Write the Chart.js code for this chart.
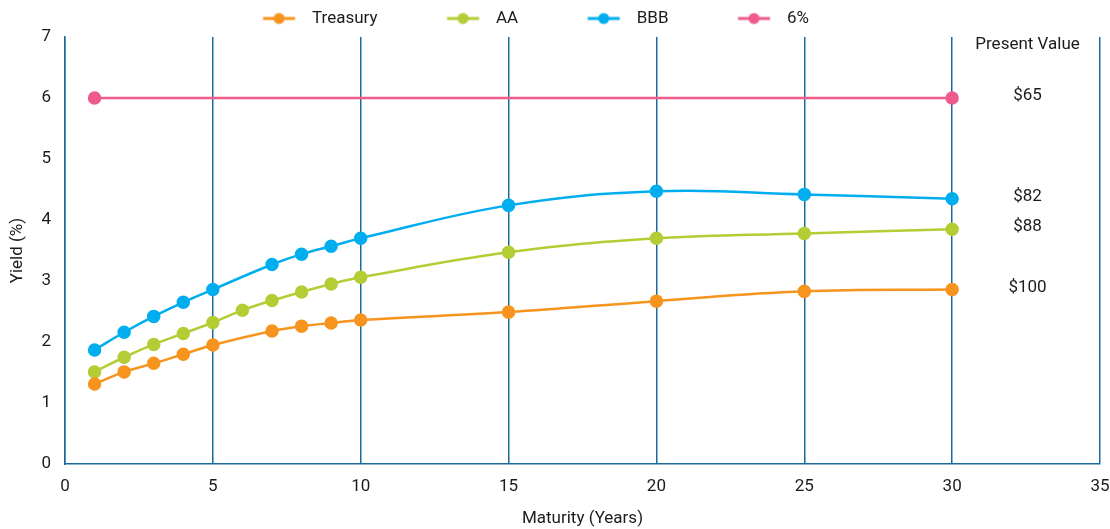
<!DOCTYPE html>
<html>
<head>
<meta charset="utf-8">
<script src="https://cdn.jsdelivr.net/npm/chart.js@4.4.1/dist/chart.umd.min.js"></script>
<style>
  html, body { margin: 0; padding: 0; background: #ffffff; }
  #wrap { width: 1110px; height: 529px; position: relative; }
</style>
</head>
<body>
<div id="wrap"><canvas id="c"></canvas></div>
<script>
// Yield curves by maturity (years) and yield (%)
const maturities = [1, 2, 3, 4, 5, 7, 8, 9, 10, 15, 20, 25, 30];
const aaMaturities = [1, 2, 3, 4, 5, 6, 7, 8, 9, 10, 15, 20, 25, 30];
const flatMaturities = [1, 30];

const treasuryYield = [1.31, 1.51, 1.65, 1.80, 1.95, 2.18, 2.26, 2.31, 2.36, 2.49, 2.67, 2.83, 2.86];
const aaYield = [1.51, 1.75, 1.96, 2.14, 2.32, 2.52, 2.68, 2.82, 2.95, 3.06, 3.47, 3.70, 3.78, 3.85];
const bbbYield = [1.87, 2.16, 2.42, 2.65, 2.86, 3.27, 3.44, 3.57, 3.70, 4.24, 4.47, 4.42, 4.35];
const flatYield = [6, 6];

const seriesNames = ['Treasury', 'AA', 'BBB', '6%'];
const seriesColors = ['#f7941e', '#b5cc34', '#00aeef', '#ef5b8c'];

// Present value of each bond, shown beside the end of its curve
const presentValueHeader = 'Present Value';
const presentValues = ['$100', '$88', '$82', '$65'];

const xTicks = [0, 5, 10, 15, 20, 25, 30, 35];
const yTicks = [0, 1, 2, 3, 4, 5, 6, 7];

const FONT = 'Roboto, "Liberation Sans", sans-serif';
const TEXT = '#1e1a1b';
const GRID = '#1a6aa0';

const toPoints = (xs, ys) => xs.map((x, i) => ({ x: x, y: ys[i] }));
const seriesData = [
  toPoints(maturities, treasuryYield),
  toPoints(aaMaturities, aaYield),
  toPoints(maturities, bbbYield),
  toPoints(flatMaturities, flatYield)
];

// Legend marker: short line with a dot, padded on the left for spacing
const MARK_W = 100;
function legendMarker(color) {
  const cv = document.createElement('canvas');
  cv.width = MARK_W; cv.height = 14;
  const g = cv.getContext('2d');
  const x1 = MARK_W - 40.5, x2 = MARK_W - 8.5, cy = 7;
  g.strokeStyle = color; g.lineWidth = 3;
  g.beginPath(); g.moveTo(x1, cy); g.lineTo(x2, cy); g.stroke();
  g.fillStyle = color;
  g.beginPath(); g.arc((x1 + x2) / 2, cy, 5.5, 0, Math.PI * 2); g.fill();
  return cv;
}

const pvLabelsPlugin = {
  id: 'pvLabels',
  afterDatasetsDraw(chart) {
    const { ctx, scales: { x, y } } = chart;
    const cx = x.getPixelForValue(32.55);
    ctx.save();
    ctx.fillStyle = TEXT;
    ctx.textAlign = 'center';
    ctx.textBaseline = 'middle';
    ctx.font = '17px ' + FONT;
    ctx.fillText(presentValueHeader, cx, y.getPixelForValue(7) + 8);
    [0, 1, 2, 3].forEach(i => {
      const ys = chart.data.datasets[i].data;
      const last = ys[ys.length - 1].y;
      ctx.fillText(presentValues[i], cx, y.getPixelForValue(last) - 2);
    });
    ctx.restore();
  }
};

const legendShiftPlugin = {
  id: 'legendShift',
  afterLayout(chart) {
    const lg = chart.legend;
    if (!lg || !lg.lineWidths) return;
    const pad = 10;
    const lw = lg.lineWidths[0];
    const start = (lg.left + pad + lg.right - lw) / 2;
    const visualCenter = start + (MARK_W - 40.5 + lw - pad) / 2;
    const target = chart.width / 2 - 19;
    const shift = target - visualCenter;
    lg.left += shift;
    lg.right += shift;
  }
};

new Chart(document.getElementById('c'), {
  type: 'line',
  data: {
    datasets: seriesNames.map((name, i) => ({
      label: name,
      data: seriesData[i],
      borderColor: seriesColors[i],
      backgroundColor: seriesColors[i],
      pointBackgroundColor: seriesColors[i],
      pointBorderColor: seriesColors[i],
      borderWidth: 2.5,
      pointRadius: 5.5,
      pointHoverRadius: 5.5,
      tension: 0.4,
      fill: false
    }))
  },
  options: {
    responsive: true,
    maintainAspectRatio: false,
    animation: false,
    layout: { padding: { left: 0, right: 10, top: 0, bottom: 0 } },
    plugins: {
      tooltip: { enabled: false },
      legend: {
        position: 'top',
        labels: {
          usePointStyle: true,
          pointStyleWidth: MARK_W,
          padding: 10,
          color: TEXT,
          font: { family: FONT, size: 17 },
          generateLabels(chart) {
            return chart.data.datasets.map((ds, i) => ({
              text: ds.label,
              fillStyle: ds.borderColor,
              strokeStyle: ds.borderColor,
              pointStyle: legendMarker(ds.borderColor),
              lineWidth: 0,
              hidden: false,
              datasetIndex: i,
              fontColor: TEXT
            }));
          }
        }
      }
    },
    scales: {
      x: {
        type: 'linear',
        min: 0,
        max: 35,
        afterBuildTicks(scale) { scale.ticks = xTicks.map(v => ({ value: v })); },
        afterFit(scale) { scale.height = 65; scale.paddingRight = 0; },
        grid: { display: true, color: GRID, lineWidth: 1.5, drawTicks: false },
        border: { display: true, color: GRID, width: 1.5 },
        ticks: { color: TEXT, padding: 13, font: { family: FONT, size: 17 } },
        title: {
          display: true,
          text: 'Maturity (Years)',
          color: TEXT,
          font: { family: FONT, size: 17 },
          padding: { top: 2, bottom: 0 }
        }
      },
      y: {
        type: 'linear',
        min: 0,
        max: 7,
        afterBuildTicks(scale) { scale.ticks = yTicks.map(v => ({ value: v })); },
        afterFit(scale) { scale.width = 65; },
        grid: { display: false, drawTicks: false },
        border: { display: true, color: GRID, width: 1.5 },
        ticks: { color: TEXT, padding: 14, font: { family: FONT, size: 17 } },
        title: {
          display: true,
          text: 'Yield (%)',
          color: TEXT,
          font: { family: FONT, size: 17 },
          padding: { top: 8, bottom: 0 }
        }
      }
    }
  },
  plugins: [pvLabelsPlugin, legendShiftPlugin]
});
</script>
</body>
</html>
